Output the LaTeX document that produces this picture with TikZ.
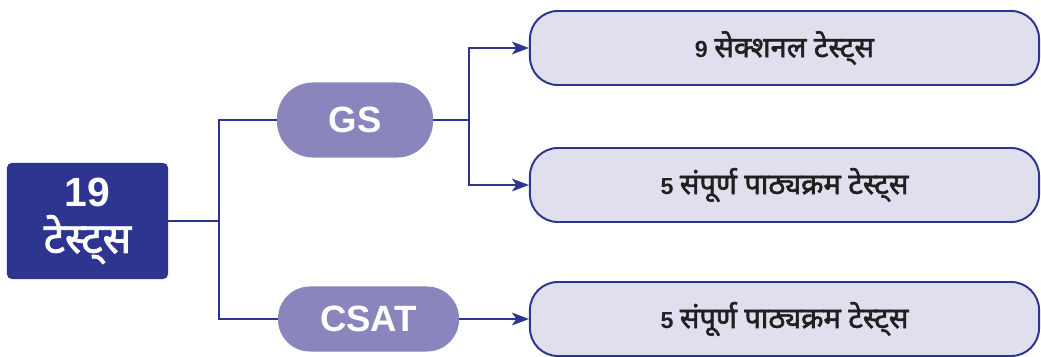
\documentclass[tikz,border=0pt]{standalone}
\usepackage{fontspec}
\setmainfont{Liberation Sans}
\newfontfamily\deva[Script=Devanagari, Scale=1.25,
  BoldFont={Noto Sans}, BoldFeatures={FakeBold=2}]{Noto Sans}
\usetikzlibrary{arrows.meta}
\definecolor{navy}{HTML}{2E3591}
\definecolor{lilac}{HTML}{8A86BD}
\definecolor{mist}{HTML}{E0DFEE}
\definecolor{ink}{HTML}{231F20}

\begin{document}
\begin{tikzpicture}[
    x=0.025cm, y=-0.025cm,
    totalbox/.style={fill=navy, text=white, rounded corners=0.12cm,
      minimum width=4.025cm, minimum height=2.9cm, align=center,
      font=\bfseries\fontsize{29}{34}\selectfont},
    pill/.style={fill=lilac, text=white, rounded corners=0.9cm,
      minimum height=1.875cm, font=\bfseries\fontsize{26}{30}\selectfont},
    testbox/.style={draw=navy, line width=1.4pt, fill=mist, text=ink,
      rounded corners=0.7cm, minimum width=12.725cm, minimum height=1.85cm,
      font=\bfseries\fontsize{16.5}{20}\selectfont},
    link/.style={draw=navy, line width=1.4pt},
    linkarrow/.style={link, -{Stealth[length=12pt,width=9pt,inset=3pt]}}
  ]
  \useasboundingbox (0,0) rectangle (1041,356);
  % root
  \node [totalbox] (total) at (87.5,221)
    {19\\[-1pt]{\deva\fontsize{24}{28}\selectfont टेस्ट्स}};
  % branches
  \node [pill, minimum width=3.9cm] (gs) at (355,120) {GS};
  \node [pill, minimum width=4.525cm, minimum height=1.625cm,
    rounded corners=0.8cm] (csat) at (368.5,319) {CSAT};
  % leaves
  \node [testbox] (sectional) at (784.5,48) {9 {\deva सेक्शनल टेस्ट्स}};
  \node [testbox] (fullgs) at (784.5,185) {5 {\deva संपूर्ण पाठ्यक्रम टेस्ट्स}};
  \node [testbox] (fullcsat) at (784.5,319) {5 {\deva संपूर्ण पाठ्यक्रम टेस्ट्स}};
  % connectors
  \coordinate (split) at (219,221);
  \coordinate (gssplit) at (469,120);
  \draw [link]
    (total.east) -- (split)
    |- (gs.west)
  ;
  \draw [link]
    (split) |- (csat.west)
  ;
  \draw [link]
    (gs.east) -- (gssplit)
  ;
  \draw [linkarrow]
    (gssplit) |- (sectional.west)
  ;
  \draw [linkarrow]
    (gssplit) |- (fullgs.west)
  ;
  \draw [linkarrow]
    (csat.east) -- (fullcsat.west)
  ;
\end{tikzpicture}
\end{document}
